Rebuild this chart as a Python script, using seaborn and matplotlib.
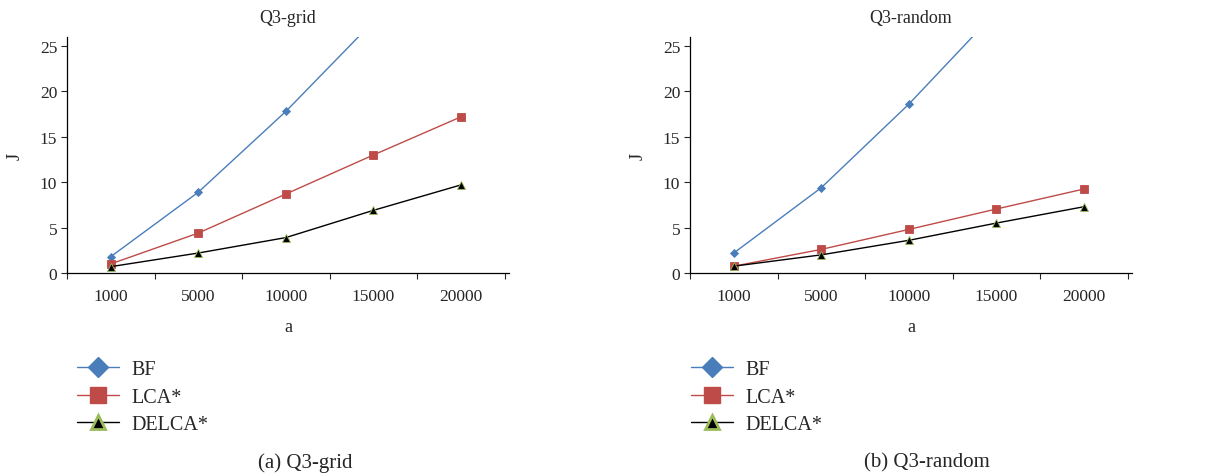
import pandas as pd
import matplotlib.pyplot as plt
import seaborn as sns
from matplotlib.lines import Line2D
from matplotlib.ticker import FixedLocator

# Data
sizes = ["1000", "5000", "10000", "15000", "20000"]
methods = ["BF", "LCA*", "DELCA*"]

grid_bf = [1.8, 8.9, 17.8, 27.7, 37.5]
grid_lca = [1.0, 4.4, 8.7, 13.0, 17.2]
grid_delca = [0.7, 2.2, 3.9, 6.9, 9.7]

random_bf = [2.2, 9.4, 18.6, 28.8, 39.5]
random_lca = [0.75, 2.6, 4.8, 7.05, 9.25]
random_delca = [0.75, 2.0, 3.6, 5.5, 7.3]

panel_titles = ["Q3-grid", "Q3-random"]
captions = ["(a) Q3-grid", "(b) Q3-random"]

colors = {"BF": "#4A7EBB", "LCA*": "#BE4B48", "DELCA*": "#000000"}
markers = {"BF": "D", "LCA*": "s", "DELCA*": "^"}
green = "#9BBB59"


def make_frame(bf, lca, delca):
    rows = []
    for name, vals in zip(methods, [bf, lca, delca]):
        for s, v in zip(sizes, vals):
            rows.append({"a": s, "J": v, "method": name})
    df = pd.DataFrame(rows)
    df["a"] = pd.Categorical(df["a"], categories=sizes, ordered=True)
    return df


frames = [make_frame(grid_bf, grid_lca, grid_delca),
          make_frame(random_bf, random_lca, random_delca)]

sns.set_style("ticks")
plt.rcParams["font.family"] = ["Liberation Serif", "DejaVu Serif"]
plt.rcParams["font.size"] = 12

fig = plt.figure(figsize=(12.23, 4.77), dpi=100)
ax_lefts = [67 / 1223, 690 / 1223]
ax_w = 442 / 1223
ax_b = 1 - 274 / 477
ax_h = 236 / 477

for i, df in enumerate(frames):
    ax = fig.add_axes([ax_lefts[i], ax_b, ax_w, ax_h])
    df = df.copy()
    df["x"] = df["a"].cat.codes
    sns.lineplot(data=df, x="x", y="J", hue="method", style="method",
                 palette=colors, markers=markers, dashes=False,
                 hue_order=methods, style_order=methods,
                 linewidth=1.0, markersize=5.5, markeredgewidth=0.6,
                 legend=False, ax=ax)
    # marker styling per series
    for line, name in zip(ax.lines, methods):
        if name == "DELCA*":
            line.set_markeredgecolor(green)
            line.set_markerfacecolor("black")
            line.set_markersize(6)
        elif name == "LCA*":
            line.set_markeredgecolor(colors[name])
            line.set_markersize(6)
        else:
            line.set_markeredgecolor(colors[name])
            line.set_markersize(4.5)

    ax.set_xlim(-0.5, len(sizes) - 0.45)
    ax.set_ylim(0, 26)
    ax.set_yticks([0, 5, 10, 15, 20, 25])
    ax.xaxis.set_major_locator(FixedLocator([k - 0.5 for k in range(len(sizes) + 1)]))
    ax.xaxis.set_minor_locator(FixedLocator(list(range(len(sizes)))))
    ax.set_xticklabels([])
    ax.set_xticklabels(sizes, minor=True)
    ax.tick_params(axis="x", which="major", length=4, width=0.8, direction="out")
    ax.tick_params(axis="x", which="minor", length=0, pad=11, labelsize=12.5)
    ax.tick_params(axis="y", length=4, width=0.8, labelsize=12.5, pad=3)
    sns.despine(ax=ax)
    for sp in ["left", "bottom"]:
        ax.spines[sp].set_linewidth(0.9)
        ax.spines[sp].set_color("black")
    ax.set_xlabel("a", fontsize=13, labelpad=10)
    ax.set_ylabel("J", fontsize=13, labelpad=12)
    ax.set_title(panel_titles[i], fontsize=13, pad=11)

    handles = []
    for name in methods:
        if name == "DELCA*":
            h = Line2D([], [], color="black", lw=1.0, marker="^", markersize=10,
                       markerfacecolor="black", markeredgecolor=green, markeredgewidth=2)
        else:
            h = Line2D([], [], color=colors[name], lw=1.0, marker=markers[name],
                       markersize=10 if name == "BF" else 11,
                       markerfacecolor=colors[name], markeredgecolor=colors[name])
        handles.append(h)
    leg_x = [77 / 1223, 691 / 1223][i]
    fig.legend(handles, methods, loc="upper left", bbox_to_anchor=(leg_x, 1 - 361 / 477),
               frameon=False, fontsize=14.5, handlelength=2.1, handletextpad=0.6,
               labelspacing=0.42, borderaxespad=0, borderpad=0)

    cap_x = [305 / 1223, 927 / 1223][i]
    fig.text(cap_x, 1 - 463 / 477, captions[i], ha="center", va="center", fontsize=15)

fig.savefig("out.png", dpi=100)
